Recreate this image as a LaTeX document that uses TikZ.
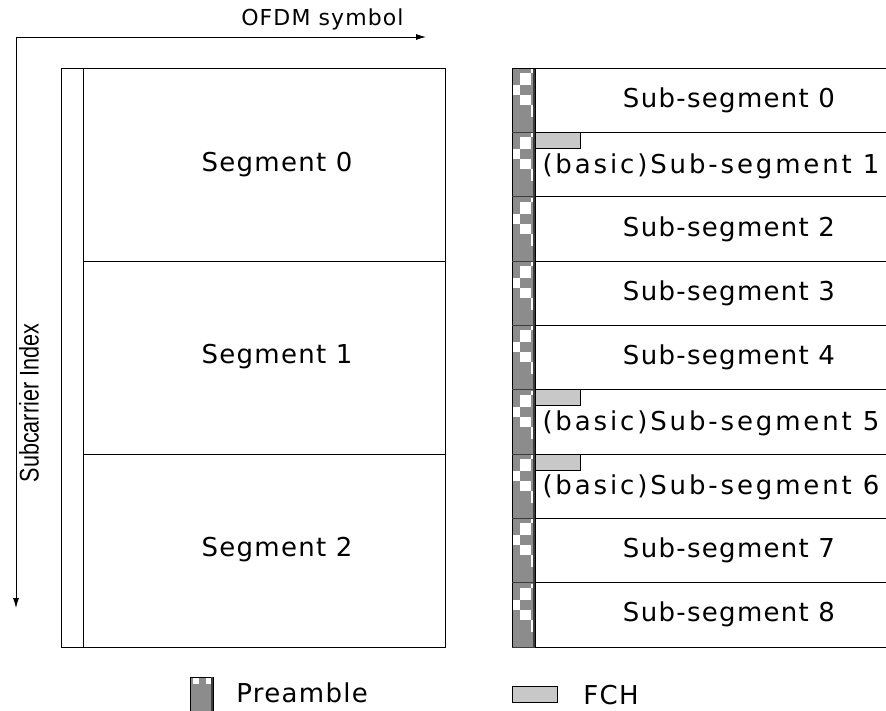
\documentclass[tikz,border=0pt]{standalone}
\usepackage{fontspec}
\setmainfont{DejaVu Sans}[LetterSpace=5]
\newfontfamily\narrowfont{Liberation Sans}
\newfontfamily\widefont{DejaVu Sans}[LetterSpace=11]
\usetikzlibrary{arrows.meta}
\definecolor{pregray}{RGB}{140,140,140}
\definecolor{fchgray}{RGB}{200,200,200}
\definecolor{edgegray}{RGB}{60,60,60}
\begin{document}
\begin{tikzpicture}[x=1pt,y=-1pt,line width=0.9pt,
  lbl/.style={font=\fontsize{26}{30}\selectfont,inner sep=0pt},
  basiclbl/.style={font=\widefont\fontsize{26}{30}\selectfont,inner sep=0pt},
  boxnode/.style={draw=black,inner sep=0pt,outer sep=0pt,anchor=north west},
  prefill/.style={fill=pregray,draw=none,inner sep=0pt,outer sep=0pt,anchor=north west},
  fchbar/.style={fill=fchgray,draw=black,line width=0.8pt,inner sep=0pt,outer sep=0pt,anchor=north west,minimum width=45pt,minimum height=16pt},
  axis/.style={line width=0.9pt,-{Latex[length=10pt,width=6pt]}}]
\useasboundingbox (0,0) rectangle (886,711);

% axes
\coordinate (org) at (16,37);
\coordinate (xend) at (426,37);
\coordinate (yend) at (16,608);
\draw[axis] (org) -- (xend);
\draw[axis] (org) -- (yend);
\node[font=\fontsize{22}{26}\selectfont,inner sep=0pt,anchor=east] (ofdm) at (404,19) {OFDM symbol};
\node[font=\narrowfont\fontsize{27}{30}\selectfont,inner sep=0pt,rotate=90,xscale=0.8] (subc) at (29,403) {Subcarrier Index};

% left block
\node[boxnode,minimum width=384pt,minimum height=579pt] (outer) at (61,68) {};
\node[boxnode,minimum width=362pt,minimum height=193pt] (seg0) at (83,68) {};
\node[boxnode,minimum width=362pt,minimum height=193pt] (seg1) at (83,261) {};
\node[boxnode,minimum width=362pt,minimum height=193pt] (seg2) at (83,454) {};
\node[lbl] (segl0) at (277,165) {Segment 0};
\node[lbl] (segl1) at (277,357) {Segment 1};
\node[lbl] (segl2) at (277,550) {Segment 2};

% preamble column
\node[prefill,minimum width=23pt,minimum height=579pt] (pre) at (512,68) {};
\foreach \i in {0,...,8}{
  \pgfmathsetmacro{\t}{68+64.333*\i}
  \fill[white] (520,\t+5) rectangle (531,\t+17);
  \fill[white] (512.5,\t+17) rectangle (520,\t+27);
  \fill[white] (520,\t+27) rectangle (531,\t+37);
  \fill[white] (531,\t+37) rectangle (533,\t+49);
  \fill[white] (531,\t+1) rectangle (533,\t+5);
}
\draw[black] (pre.north west) -- (pre.south west);
\draw[edgegray,line width=1.8pt] ([xshift=-1pt]pre.north east) -- ([xshift=-1pt]pre.south east);
\draw[black] (pre.north west) -- (pre.north east);

% sub-segments
\foreach \i in {0,...,8}{
  \pgfmathsetmacro{\t}{68+64.333*\i}
  \node[boxnode,minimum width=400pt,minimum height=64.333pt] (ss\i) at (535,\t) {};
  \draw[edgegray] (512,\t+64.333) -- (535,\t+64.333);
}
\node[fchbar] (fch1) at (535,132.33) {};
\node[fchbar] (fch5) at (535,389.67) {};
\node[fchbar] (fch6) at (535,454) {};

\node[lbl] (sl0) at (729,100) {Sub-segment 0};
\node[basiclbl] (sl1) at (711,166) {(basic)Sub-segment 1};
\node[lbl] (sl2) at (729,229) {Sub-segment 2};
\node[lbl] (sl3) at (729,293) {Sub-segment 3};
\node[lbl] (sl4) at (729,357) {Sub-segment 4};
\node[basiclbl] (sl5) at (711,423) {(basic)Sub-segment 5};
\node[basiclbl] (sl6) at (711,487) {(basic)Sub-segment 6};
\node[lbl] (sl7) at (729,550) {Sub-segment 7};
\node[lbl] (sl8) at (729,614) {Sub-segment 8};

% legend
\node[prefill,minimum width=23pt,minimum height=36pt,draw=black,line width=0.9pt] (legpre) at (190,677) {};
\fill[white] (193,678) rectangle (199,684);
\fill[white] (206,678) rectangle (211,684);
\draw[edgegray,line width=1.8pt] (212,677) -- (212,713);
\node[lbl,anchor=west] (legpret) at (236,693) {Preamble};
\node[fchbar] (legfch) at (512,686) {};
\node[lbl,anchor=west] (legfcht) at (583,695) {FCH};
\end{tikzpicture}
\end{document}
